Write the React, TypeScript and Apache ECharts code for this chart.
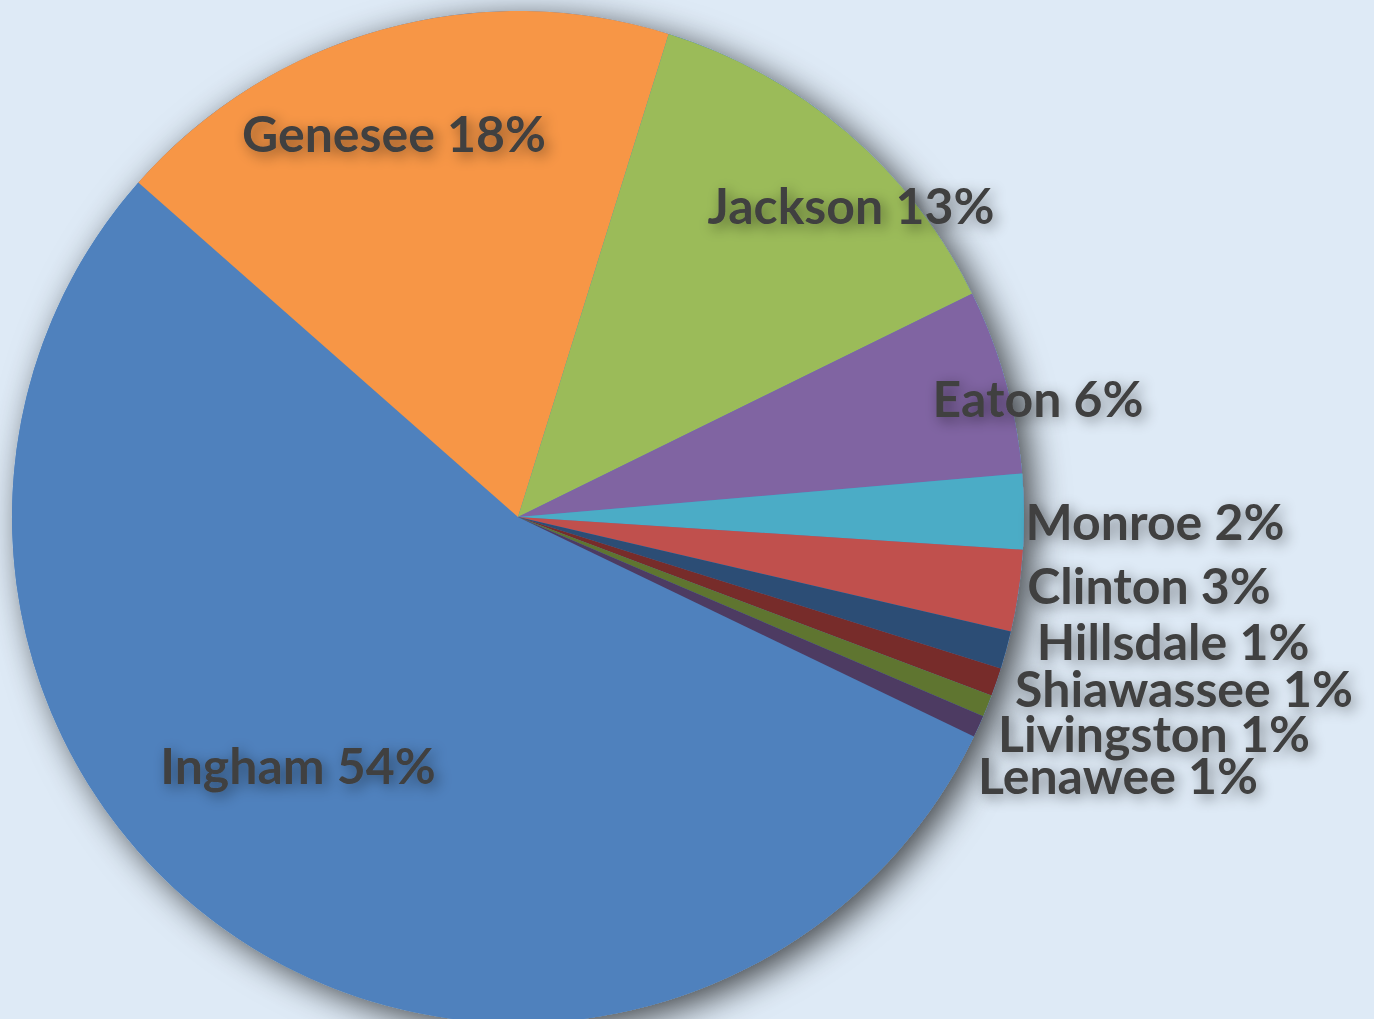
import React, { useEffect, useRef } from "react";
import * as echarts from "echarts";

const counties = [
  "Ingham",
  "Genesee",
  "Jackson",
  "Eaton",
  "Monroe",
  "Clinton",
  "Hillsdale",
  "Shiawassee",
  "Livingston",
  "Lenawee",
];
const shares = [54.3, 18.3, 12.9, 5.9, 2.4, 2.6, 1.2, 0.9, 0.7, 0.7];
const colors = [
  "#4F81BD",
  "#F79646",
  "#9BBB59",
  "#8064A2",
  "#4BACC6",
  "#C0504D",
  "#2C4D75",
  "#772C2A",
  "#5F7530",
  "#4D3B62",
];

// label anchor points (centre of each label), in page pixels
const labelAnchors: [number, number][] = [
  [298, 765],
  [394, 133],
  [851, 205],
  [1038, 398],
  [1155, 521],
  [1149, 585],
  [1173, 641],
  [1184, 688],
  [1154, 733],
  [1118, 775],
];

export default function App() {
  const ref = useRef<HTMLDivElement>(null);
  useEffect(() => {
    if (!ref.current) return;
    const chart = echarts.init(ref.current, undefined, { renderer: "svg" });
    const center = [518, 517];
    const radius = 506;
    chart.setOption({
      animation: false,
      backgroundColor: "#DEEAF6",
      series: [
        {
          type: "pie",
          silent: true,
          z: 1,
          center,
          radius,
          label: { show: false },
          labelLine: { show: false },
          itemStyle: {
            color: "#4F81BD",
            shadowBlur: 34,
            shadowColor: "rgba(0,0,0,0.7)",
            shadowOffsetX: 10,
            shadowOffsetY: 8,
          },
          data: [{ value: 1, name: "shadow" }],
        },
        {
          type: "pie",
          z: 2,
          center,
          radius,
          startAngle: 334.3,
          clockwise: true,
          avoidLabelOverlap: false,
          itemStyle: { borderWidth: 0 },
          label: {
            show: true,
            position: "inside",
            formatter: (p: any) => `${p.name} ${Math.round(p.percent)}%`,
            fontFamily: "Lato",
            fontWeight: "bold",
            fontSize: 50,
            lineHeight: 44,
            color: "#404040",
            textBorderWidth: 0,
            textShadowColor: "rgba(0,0,0,0.45)",
            textShadowBlur: 14,
            textShadowOffsetX: 4,
            textShadowOffsetY: 4,
          },
          labelLine: { show: false },
          labelLayout: (params: any) => {
            const a = labelAnchors[params.dataIndex];
            return { x: a[0], y: a[1], align: "center", verticalAlign: "middle" };
          },
          emphasis: { disabled: true },
          data: counties.map((name, i) => ({
            name,
            value: shares[i],
            itemStyle: { color: colors[i] },
          })),
        },
      ],
    });
    return () => chart.dispose();
  }, []);
  return (
    <div
      ref={ref}
      style={{ position: "fixed", left: 0, top: 0, width: 1374, height: 1019 }}
    />
  );
}
